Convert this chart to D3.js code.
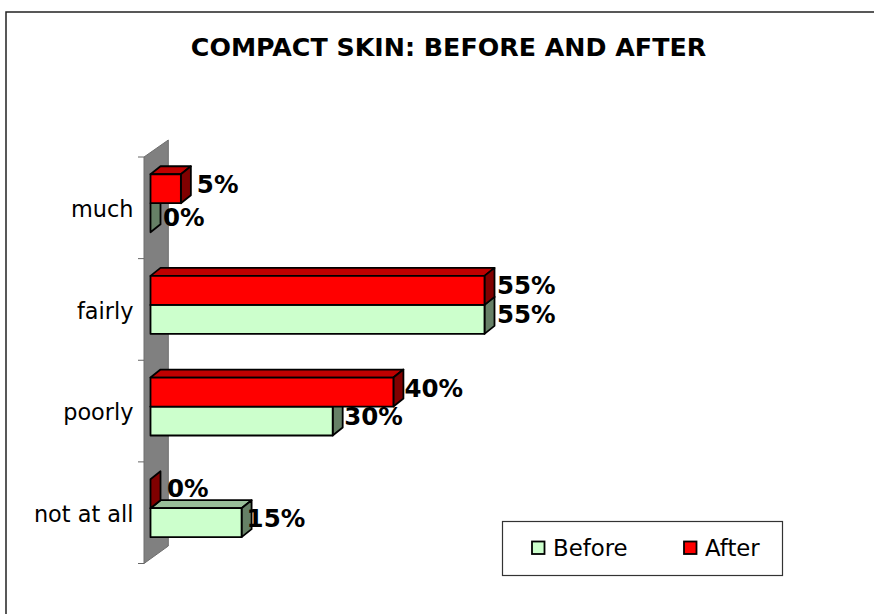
<!DOCTYPE html>
<html><head><meta charset="utf-8">
<script src="https://cdnjs.cloudflare.com/ajax/libs/d3/7.8.5/d3.min.js"></script>
<style>html,body{margin:0;padding:0;background:#fff}svg{display:block}text{font-family:"DejaVu Sans",sans-serif;fill:#000}</style>
</head><body><svg id="c" width="874" height="614"></svg>
<script>
const categories = ["much","fairly","poorly","not at all"];
const seriesNames = ["Before","After"];
const beforeValues = [0,55,30,15];
const afterValues = [5,55,40,0];
const titleText = "COMPACT SKIN: BEFORE AND AFTER";
// hand placement of the value labels, [dx from bar end, dy from bar centre]
const beforeLabelNudge = [[12.5,8],[12.5,4],[11.5,4],[5,4]];
const afterLabelNudge = [[16,4],[12.5,4],[11,5],[16.5,3]];

const svg = d3.select("#c");
const depth = {x:10, y:-8};
const colors = {
  Before:{front:"#CCFFCC",top:"#99BF99",side:"#668066"},
  After:{front:"#FF0000",top:"#BF0000",side:"#800000"}
};
const x = d3.scaleLinear().domain([0,55]).range([150.5,484.5]);
const yBand = d3.scaleBand().domain(categories).range([152.4,559]).paddingInner(0.43).paddingOuter(0.215);
const ySeries = d3.scaleBand().domain(["After","Before"]).range([0,yBand.bandwidth()]);
const tickScale = d3.scalePoint().domain(d3.range(5)).range([157,563.5]);

// frame
svg.append("rect").attr("x",6).attr("y",12).attr("width",900).attr("height",700)
  .attr("fill","#fff").attr("stroke","#222").attr("stroke-width",1.5);

// title
svg.append("text").attr("x",448.5).attr("y",56).attr("text-anchor","middle")
  .attr("font-size",25.3).attr("font-weight","bold").text(titleText);

// wall
const wallPts = [[144,157],[168.3,140],[168.3,546],[144,563.5]];
svg.append("polygon").attr("points",wallPts.join(" "))
  .attr("fill","#808080").attr("stroke","#6e6e6e").attr("stroke-width",1);
svg.append("g").selectAll("line").data(d3.range(5)).join("line")
  .attr("x1",138).attr("x2",144).attr("y1",d=>tickScale(d)).attr("y2",d=>tickScale(d))
  .attr("stroke","#666").attr("stroke-width",1);

// category axis (labels only)
const axisG = svg.append("g").attr("transform","translate(133.5,0)")
  .call(d3.axisLeft(yBand).tickSize(0).tickPadding(0));
axisG.select(".domain").remove();
axisG.selectAll("text").attr("font-size",22.4).attr("font-family","DejaVu Sans").attr("dy","0.32em")
  .attr("y",6.5);

function drawBar(g, name, value, cat){
  const c = colors[name];
  const x0 = x(0), x1 = x(value);
  const y0 = yBand(cat)+ySeries(name), y1 = y0+ySeries.bandwidth();
  const dx = depth.x, dy = depth.y;
  const st = s=>s.attr("stroke","#000").attr("stroke-width",1.8).attr("stroke-linejoin","round");
  if(value>0){
    g.append("polygon").attr("points",[[x0,y0],[x0+dx,y0+dy],[x1+dx,y0+dy],[x1,y0]].join(" "))
      .attr("fill",c.top).call(st);
  }
  g.append("polygon").attr("points",[[x1,y0],[x1+dx,y0+dy],[x1+dx,y1+dy],[x1,y1]].join(" "))
    .attr("fill",c.side).call(st);
  if(value>0){
    g.append("rect").attr("x",x0).attr("y",y0).attr("width",x1-x0).attr("height",y1-y0)
      .attr("fill",c.front).call(st);
  }
}
const bars = svg.append("g");
categories.forEach((cat,i)=>{
  drawBar(bars,"Before",beforeValues[i],cat);
  drawBar(bars,"After",afterValues[i],cat);
});

// value labels
const labels = svg.append("g").attr("font-size",24.5).attr("font-weight","bold");
categories.forEach((cat,i)=>{
  [["Before",beforeValues[i],beforeLabelNudge[i]],["After",afterValues[i],afterLabelNudge[i]]].forEach(([n,v,nudge])=>{
    labels.append("text")
      .attr("x",x(v)+nudge[0])
      .attr("y",yBand(cat)+ySeries(n)+ySeries.bandwidth()/2+nudge[1])
      .text(v+"%");
  });
});

// legend
svg.append("rect").attr("x",502.5).attr("y",521.5).attr("width",280).attr("height",54)
  .attr("fill","#fff").attr("stroke","#333").attr("stroke-width",1.2);
const legendX = d3.scalePoint().domain(seriesNames).range([532,684]);
const lg = svg.append("g").selectAll("g").data(seriesNames).join("g")
  .attr("transform",d=>`translate(${legendX(d)},0)`);
lg.append("rect").attr("x",0).attr("y",541.5).attr("width",12.5).attr("height",12.5)
  .attr("fill",d=>colors[d].front).attr("stroke","#000").attr("stroke-width",1.8);
lg.append("text").attr("x",21).attr("y",556).attr("font-size",22.8).text(d=>d);
</script></body></html>
